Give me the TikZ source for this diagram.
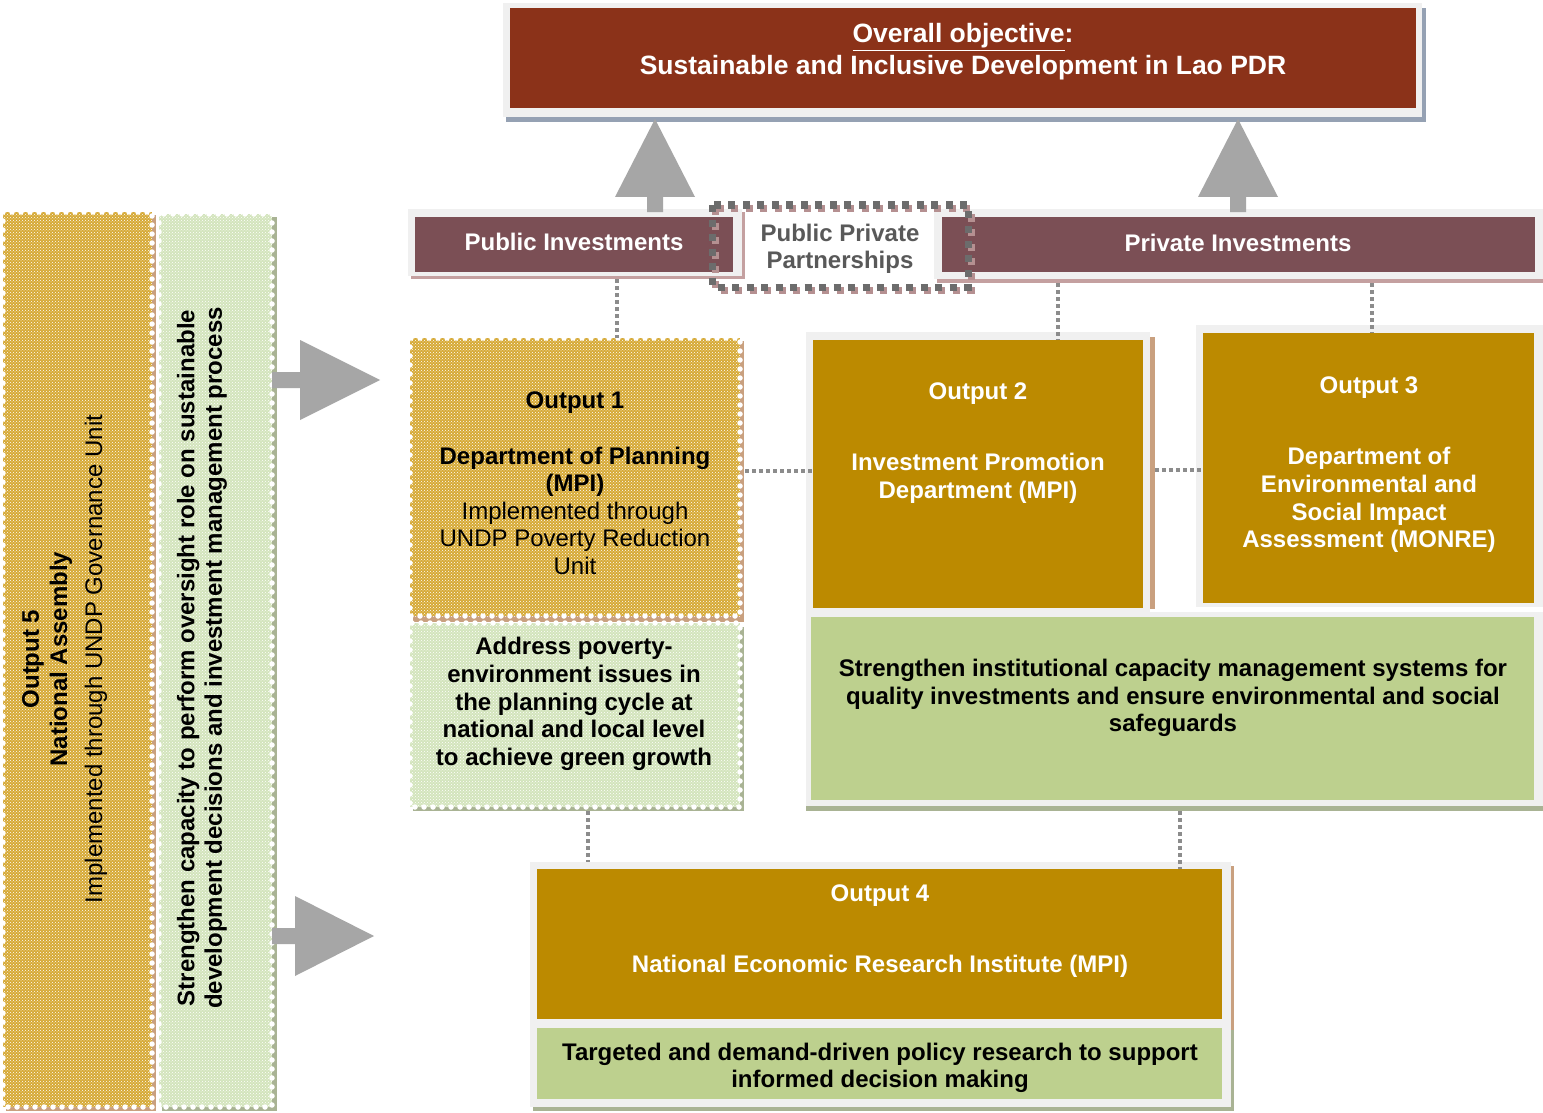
\documentclass[tikz,border=0pt]{standalone}
\usepackage{fontspec}
\setmainfont{Liberation Sans}
\usetikzlibrary{patterns}
\definecolor{objred}{HTML}{8B3219}
\definecolor{mauve}{HTML}{7B4F55}
\definecolor{goldbox}{HTML}{BC8A00}
\definecolor{lgreen}{HTML}{BDD08E}
\definecolor{arrowgray}{HTML}{A6A6A6}
\definecolor{framegray}{HTML}{F0F0F0}
\definecolor{shadowblue}{HTML}{95A1B3}
\definecolor{mytan}{HTML}{C9A07F}
\definecolor{sage}{HTML}{A9B394}
\definecolor{pinkshadow}{HTML}{C4A0A0}
\definecolor{patgold}{HTML}{D6A935}
\definecolor{patgreen}{HTML}{D3E4BC}
\definecolor{dotgray}{HTML}{8C8C8C}
\definecolor{pptext}{HTML}{595959}
\tikzset{
  box/.style={anchor=north west, inner sep=0pt, outer sep=0pt, draw=none},
  goldpat/.style={fill=patgold, postaction={pattern=crosshatch dots, pattern color=white}},
  greenpat/.style={fill=patgreen, postaction={pattern=crosshatch dots, pattern color=white}},
  scallop/.style={draw=white, line width=5.5pt, dash pattern=on 0pt off 9pt, line cap=round},
  dotc/.style={draw=dotgray, line width=3.5pt, dash pattern=on 3.5pt off 3.5pt},
  wtxt/.style={text=white, font=\fontsize{24}{27.6}\selectfont\bfseries, align=center, inner sep=0pt},
  btxt/.style={text=black, font=\fontsize{24}{27.6}\selectfont\bfseries, align=center, inner sep=0pt},
  rtxt/.style={text=black, font=\fontsize{24}{27.6}\selectfont, align=center, inner sep=0pt},
  blockarrow/.style={fill=arrowgray, draw=none}
}
\begin{document}
\begin{tikzpicture}[x=1pt,y=-1pt]
\useasboundingbox (0,0) rectangle (1543,1113);
\fill[white] (0,0) rectangle (1543,1113);

% ---------- overall objective ----------
\fill[shadowblue] (506,8) rectangle (1426,122);
\fill[framegray] (503,3) rectangle (1422,117);
\node[box, fill=objred, minimum width=906pt, minimum height=100pt] (obj) at (510,8) {};
\node[wtxt, font=\fontsize{26.5}{32}\selectfont\bfseries] (objtxt) at (963,52)
  {\underline{Overall objective}:\\Sustainable and Inclusive Development in Lao PDR};

% ---------- investments row ----------
\fill[pinkshadow] (411,212) rectangle (745,279);
\fill[framegray] (408,209) rectangle (742,276);
\node[box, fill=mauve, minimum width=318pt, minimum height=55pt] (pubinv) at (415,217) {};
\node[wtxt] (pubtxt) at (574,242) {Public Investments};

\fill[pinkshadow] (937,212) rectangle (1543,283);
\fill[framegray] (934,209) rectangle (1543,279);
\node[box, fill=mauve, minimum width=593pt, minimum height=55pt] (privinv) at (942,217) {};
\node[wtxt] (privtxt) at (1238,243) {Private Investments};

% PPP dashed frame
\draw[pinkshadow!80!mauve, line width=7pt, dash pattern=on 7pt off 7.5pt] (715.5,208) rectangle (971,290);
\draw[gray!85!black, line width=7pt, dash pattern=on 7pt off 7.5pt] (712.5,205) rectangle (968,287);
\node[text=pptext, font=\fontsize{24}{27}\selectfont\bfseries, align=center, inner sep=0pt] (ppp) at (840,249)
  {Public Private\\Partnerships};

% up arrows
\fill[blockarrow] (647,212) -- (647,197) -- (615,197) -- (655,119) -- (695,197) -- (663,197) -- (663,212) -- cycle;
\fill[blockarrow] (1230,212) -- (1230,197) -- (1198,197) -- (1238,119) -- (1278,197) -- (1246,197) -- (1246,212) -- cycle;

% ---------- left columns ----------
\fill[mytan] (6,215) rectangle (156,1111);
\node[box, goldpat, minimum width=149pt, minimum height=895pt] (out5) at (3,212) {};
\draw[scallop] (out5.north west) rectangle (out5.south east);
\node[btxt, rotate=90] (o5a) at (33,659) {Output 5};
\node[btxt, rotate=90] (o5b) at (61,659) {National Assembly};
\node[rtxt, rotate=90] (o5c) at (96,659) {Implemented through UNDP Governance Unit};

\fill[sage] (162,217) rectangle (277,1111);
\node[box, greenpat, minimum width=113pt, minimum height=893pt] (strcol) at (159,214) {};
\draw[scallop] (strcol.north west) rectangle (strcol.south east);
\node[btxt, rotate=90] (strtxt) at (202,658)
  {Strengthen capacity to perform oversight role on sustainable\\development decisions and investment management process};

% right arrows
\fill[blockarrow] (272,372) -- (300,372) -- (300,340) -- (380,380) -- (300,420) -- (300,388) -- (272,388) -- cycle;
\fill[blockarrow] (272,928) -- (295,928) -- (295,896) -- (374,936) -- (295,976) -- (295,944) -- (272,944) -- cycle;

% ---------- output 1 ----------
\fill[mytan] (413,341) rectangle (744,622);
\node[box, goldpat, minimum width=330pt, minimum height=278pt] (o1) at (410,338) {};
\draw[scallop] (o1.north west) rectangle (o1.south east);
\node[btxt] (o1txt) at (575,483.5)
  {Output 1\\[27.6pt]Department of Planning\\(MPI)\\\mdseries Implemented through\\\mdseries UNDP Poverty Reduction\\\mdseries Unit};

\fill[sage] (413,627) rectangle (744,811);
\node[box, greenpat, minimum width=330pt, minimum height=184pt] (o1g) at (410,623) {};
\draw[scallop] (o1g.north west) rectangle (o1g.south east);
\node[btxt] (o1gtxt) at (574,704)
  {Address poverty-\\environment issues in\\the planning cycle at\\national and local level\\to achieve green growth};

% ---------- output 2 ----------
\fill[mytan] (1150,337) rectangle (1155,609);
\fill[framegray] (806,332) rectangle (1150,613);
\node[box, fill=goldbox, minimum width=330pt, minimum height=268pt] (o2) at (813,340) {};
\node[wtxt] (o2a) at (978,393.5) {Output 2};
\node[wtxt] (o2b) at (978,478.5) {Investment Promotion\\Department (MPI)};

% ---------- output 3 ----------
\fill[framegray] (1196,325) rectangle (1543,607);
\node[box, fill=goldbox, minimum width=331pt, minimum height=270pt] (o3) at (1203,333) {};
\node[wtxt] (o3a) at (1369,387.5) {Output 3};
\node[wtxt] (o3b) at (1369,500) {Department of\\Environmental and\\Social Impact\\Assessment (MONRE)};

% ---------- strengthen institutional ----------
\fill[sage] (806,806) rectangle (1543,811);
\fill[framegray] (806,612) rectangle (1543,806);
\node[box, fill=lgreen, minimum width=723pt, minimum height=183pt] (sg) at (811,617) {};
\node[btxt] (sgtxt) at (1173,698)
  {Strengthen institutional capacity management systems for\\quality investments and ensure environmental and social\\safeguards};

% ---------- output 4 ----------
\fill[mytan] (533,866) rectangle (1234,1030);
\fill[sage] (533,1030) rectangle (1234,1111);
\fill[framegray] (530,862) rectangle (1231,1107);
\node[box, fill=goldbox, minimum width=685pt, minimum height=150pt] (o4) at (537,869) {};
\node[wtxt] (o4a) at (880,895.5) {Output 4};
\node[wtxt] (o4b) at (880,966.5) {National Economic Research Institute (MPI)};
\node[box, fill=lgreen, minimum width=685pt, minimum height=71pt] (o4g) at (537,1028) {};
\node[btxt] (o4gtxt) at (880,1068)
  {Targeted and demand-driven policy research to support\\informed decision making};

% ---------- dotted connectors ----------
\draw[dotc] (617,279) -- (o1.north -| 617,0);
\draw[dotc] (1058,283) -- (o2.north -| 1058,0);
\draw[dotc] (1372,283) -- (o3.north -| 1372,0);
\draw[dotc] (o1.east |- 0,471) ++(5,0) -- (o2.west |- 0,471);
\draw[dotc] (1155,470) -- (o3.west |- 0,470);
\draw[dotc] (o1g.south -| 588,0) ++(0,4) -- (588,862);
\draw[dotc] (1180,811) -- (o4.north -| 1180,0);
\end{tikzpicture}
\end{document}
